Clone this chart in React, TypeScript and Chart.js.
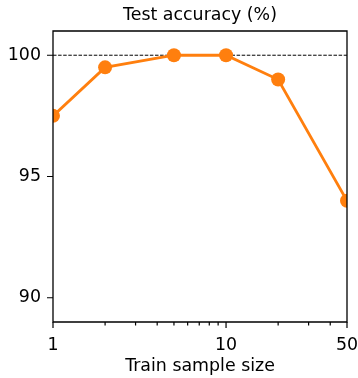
import React, { useEffect, useRef } from "react";
import { Chart, registerables } from "chart.js";

Chart.register(...registerables);

// Train sample sizes and the matching test accuracy (%)
const sampleSizes = [1, 2, 5, 10, 20, 50];
const accuracy = [97.5, 99.5, 100, 100, 99, 94];

// Reference level drawn as a dashed line
const referenceLevel = 100;

// Axis ticks
const yTickValues = [90, 95, 100];
const xMajorTicks = [1, 10, 50];
const xMinorTicks = [2, 3, 4, 5, 6, 7, 8, 9, 20, 30, 40];

const FONT = "'DejaVu Sans', 'Liberation Sans', sans-serif";
const FONT_SIZE = 17.4;
const ORANGE = "#ff7f0e";
const INK = "#000000";

const MAJOR_LEN = 6;
const MINOR_LEN = 3.4;

// Draws the axes frame plus outward tick marks (major and minor)
const framePlugin = {
  id: "frameAndTicks",
  afterDatasetsDraw(chart: any) {
    const { ctx, chartArea, scales } = chart;
    const { left, right, top, bottom } = chartArea;
    ctx.save();
    ctx.strokeStyle = INK;
    ctx.lineWidth = 1.3;
    ctx.beginPath();
    ctx.rect(left, top, right - left, bottom - top);
    ctx.stroke();

    ctx.lineWidth = 1.2;
    ctx.beginPath();
    const x = scales.x;
    const y = scales.y;
    xMajorTicks.forEach((v) => {
      const px = x.getPixelForValue(v);
      ctx.moveTo(px, bottom);
      ctx.lineTo(px, bottom + MAJOR_LEN);
    });
    xMinorTicks.forEach((v) => {
      const px = x.getPixelForValue(v);
      ctx.moveTo(px, bottom);
      ctx.lineTo(px, bottom + MINOR_LEN);
    });
    yTickValues.forEach((v) => {
      const py = y.getPixelForValue(v);
      ctx.moveTo(left, py);
      ctx.lineTo(left - MAJOR_LEN, py);
    });
    ctx.stroke();
    ctx.restore();
  },
};

export default function App() {
  const canvasRef = useRef<HTMLCanvasElement | null>(null);

  useEffect(() => {
    document.body.style.margin = "0";
    const canvas = canvasRef.current;
    if (!canvas) return;

    const chart = new Chart(canvas, {
      type: "line",
      data: {
        datasets: [
          {
            label: "reference",
            data: [
              { x: sampleSizes[0], y: referenceLevel },
              { x: sampleSizes[sampleSizes.length - 1], y: referenceLevel },
            ],
            borderColor: INK,
            borderWidth: 1,
            borderDash: [3.5, 1.6],
            pointRadius: 0,
            fill: false,
            order: 2,
          },
          {
            label: "Test accuracy",
            data: sampleSizes.map((s, i) => ({ x: s, y: accuracy[i] })),
            borderColor: ORANGE,
            backgroundColor: ORANGE,
            borderWidth: 2.8,
            pointRadius: 7,
            pointBackgroundColor: ORANGE,
            pointBorderColor: ORANGE,
            pointBorderWidth: 0,
            fill: false,
            tension: 0,
            clip: 0,
            order: 1,
          },
        ],
      },
      options: {
        animation: false,
        responsive: false,
        maintainAspectRatio: false,
        layout: { padding: { left: 0, right: 11, top: 0, bottom: 0 } },
        plugins: {
          legend: { display: false },
          tooltip: { enabled: false },
          title: {
            display: true,
            text: "Test accuracy (%)",
            fullSize: false,
            color: INK,
            font: { family: FONT, size: FONT_SIZE, weight: "normal" },
            padding: { top: 5, bottom: 5.1 },
          },
        },
        scales: {
          x: {
            type: "logarithmic",
            min: 1,
            max: 50,
            afterBuildTicks: (scale: any) => {
              scale.ticks = xMajorTicks.map((v) => ({ value: v, major: true }));
            },
            afterFit: (scale: any) => {
              scale.height = 56;
              scale.paddingLeft = 0;
              scale.paddingRight = 0;
            },
            grid: { display: false, drawTicks: false },
            border: { display: false },
            ticks: {
              autoSkip: false,
              maxRotation: 0,
              padding: 13,
              color: INK,
              font: { family: FONT, size: FONT_SIZE },
              callback: (v: any) => String(v),
            },
            title: {
              display: true,
              text: "Train sample size",
              color: INK,
              font: { family: FONT, size: FONT_SIZE },
              padding: { top: 0, bottom: 1 },
            },
          },
          y: {
            type: "linear",
            min: 89,
            max: 101,
            afterBuildTicks: (scale: any) => {
              scale.ticks = yTickValues.map((v) => ({ value: v }));
            },
            afterFit: (scale: any) => {
              scale.width = 53;
              scale.paddingTop = 0;
              scale.paddingBottom = 0;
            },
            grid: { display: false, drawTicks: false },
            border: { display: false },
            ticks: {
              padding: 12,
              color: INK,
              font: { family: FONT, size: FONT_SIZE },
              callback: (v: any) => String(v),
            },
          },
        },
      },
      plugins: [framePlugin],
    });

    return () => chart.destroy();
  }, []);

  return (
    <div style={{ width: 358, height: 378, background: "#fff" }}>
      <canvas ref={canvasRef} width={358} height={378} style={{ display: "block" }} />
    </div>
  );
}
